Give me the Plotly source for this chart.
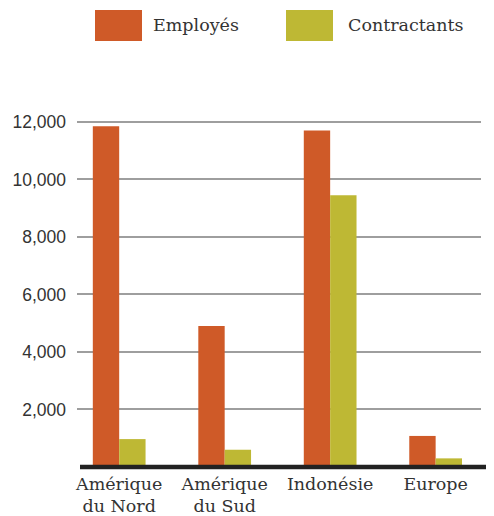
import plotly.graph_objects as go

categories = ["Amérique<br>du Nord", "Amérique<br>du Sud", "Indonésie", "Europe"]
series_names = ["Employés", "Contractants"]
employes = [11850, 4900, 11700, 1080]
contractants = [970, 600, 9450, 300]
colors = ["#CF5A28", "#BEB834"]
y_ticks = [2000, 4000, 6000, 8000, 10000, 12000]
y_tick_labels = ["2,000", "4,000", "6,000", "8,000", "10,000", "12,000"]

# page has an 8px body margin; work in screen coordinates
OFF = 8
W, H = 494 - OFF, 516 - OFF
PL, PR, PT, PB = 77, 481, 119, 467  # plot area in screen px
pw, ph = PR - PL, PB - PT

def px_x(p):
    return (p - PL) / pw

def px_y(p):
    return (PB - p) / ph

fig = go.Figure()
for name, vals, col in zip(series_names, [employes, contractants], colors):
    fig.add_trace(go.Bar(x=categories, y=vals, name=name, marker=dict(color=col, line=dict(width=0)), showlegend=False))

shapes = []
annotations = []
legend_x = [(95, 142, 151), (286, 333, 346)]
for (x0, x1, tx), name, col in zip(legend_x, series_names, colors):
    shapes.append(dict(type="rect", xref="paper", yref="paper", x0=px_x(x0), x1=px_x(x1),
                       y0=px_y(41), y1=px_y(10), fillcolor=col, line=dict(width=0)))
    annotations.append(dict(xref="paper", yref="paper", x=px_x(tx), y=px_y(25.5), text=name,
                            showarrow=False, xanchor="left", yanchor="middle",
                            font=dict(family="DejaVu Serif", size=17.5, color="#333333")))

# baseline (value 0 sits at the bottom of the plot area)
shapes.append(dict(type="line", xref="paper", yref="paper", x0=px_x(80), x1=px_x(494), y0=0, y1=0,
                   line=dict(color="#222222", width=4.5)))

fig.update_layout(
    width=W, height=H,
    margin=dict(l=PL - OFF, r=494 - PR, t=PT - OFF, b=516 - PB, autoexpand=False),
    paper_bgcolor="white", plot_bgcolor="white",
    barmode="group", bargap=0.5, bargroupgap=0,
    shapes=shapes, annotations=annotations,
    xaxis=dict(range=[-0.4, 3.43], showgrid=False, zeroline=False, showline=False, ticks="",
               ticklabelstandoff=4,
               tickfont=dict(family="DejaVu Serif", size=17.5, color="#333333"), automargin=False),
    yaxis=dict(range=[0, 12100], tickvals=y_ticks, ticktext=y_tick_labels, showgrid=True,
               gridcolor="#9E9E9E", gridwidth=1.5, zeroline=False, showline=False, ticks="",
               ticklabelstandoff=10,
               tickfont=dict(family="Liberation Sans", size=17.5, color="#333333"), automargin=False),
)

fig.write_html("out.html")
